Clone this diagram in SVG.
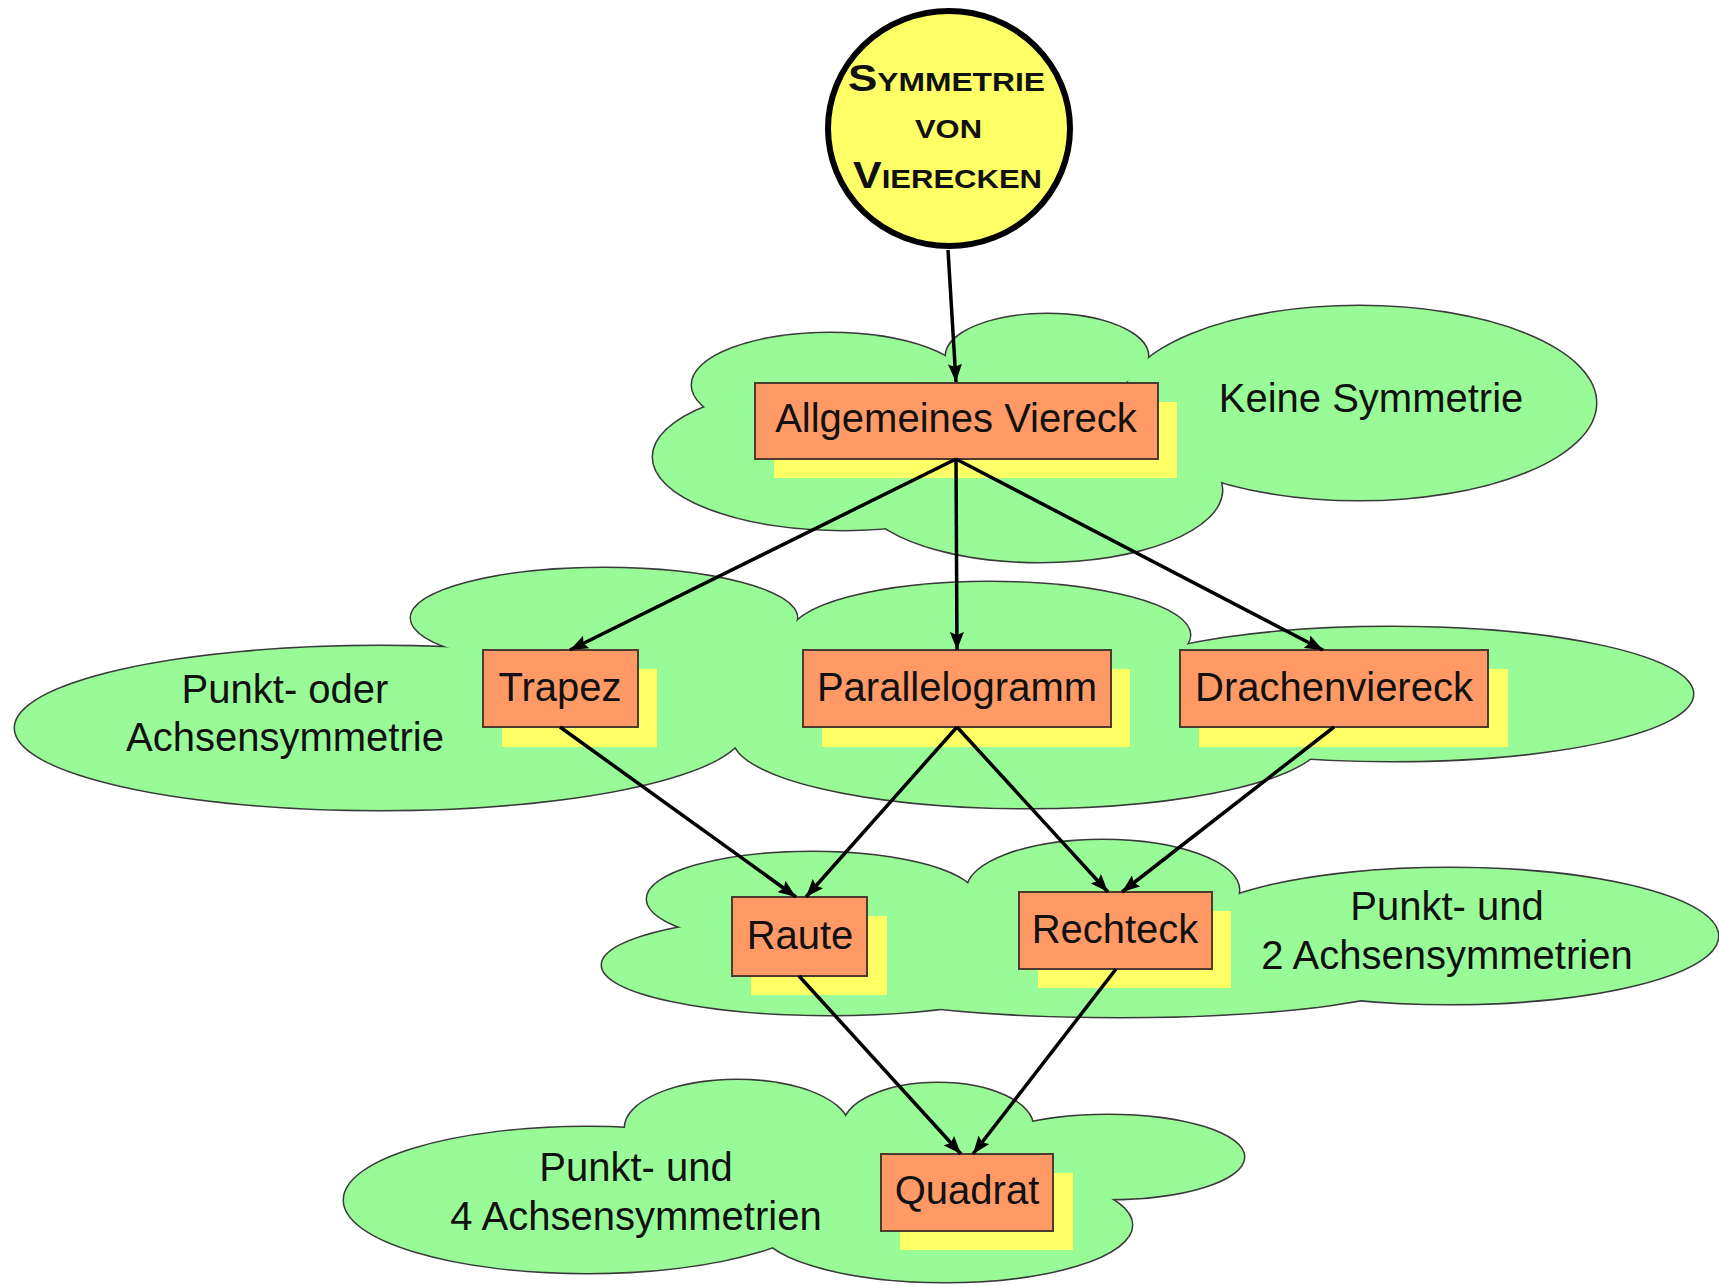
<svg xmlns="http://www.w3.org/2000/svg" xmlns:xlink="http://www.w3.org/1999/xlink" width="1719" height="1285" viewBox="0 0 1719 1285">
<style>
.cs{fill:#98FB98;stroke:#3a3a3a;stroke-width:3}
.cf{fill:#98FB98;stroke:none}
.lbl{font-family:"Liberation Sans",Arial,sans-serif;font-size:40px;fill:#111;text-anchor:middle}
.box{fill:#FF9966;stroke:#4d3b30;stroke-width:2}
.shadow{fill:#FFFF66}
.edge{stroke:#000;stroke-width:3.5;fill:none;marker-end:url(#ah)}
.title{font-family:"Liberation Sans",Arial,sans-serif;font-weight:bold;fill:#111}
</style>
<defs>
<marker id="ah" viewBox="0 0 18 14" refX="18" refY="7" markerWidth="18" markerHeight="14" markerUnits="userSpaceOnUse" orient="auto">
<path d="M0,0 L18,7 L0,14 L3,7 z" fill="#000"/>
</marker>
<g id="c1">
<ellipse cx="830" cy="385" rx="138" ry="52"/>
<ellipse cx="844" cy="457" rx="191" ry="73"/>
<ellipse cx="1047" cy="356" rx="101" ry="42"/>
<ellipse cx="1040" cy="490" rx="182" ry="72"/>
<ellipse cx="1359" cy="403" rx="237" ry="97"/>
</g>
<g id="c2">
<ellipse cx="380" cy="728" rx="365" ry="82"/>
<ellipse cx="604" cy="618" rx="193" ry="50"/>
<ellipse cx="990" cy="635" rx="200" ry="53"/>
<ellipse cx="1028" cy="738" rx="295" ry="70"/>
<ellipse cx="1391" cy="694" rx="302" ry="67"/>
</g>
<g id="c3">
<ellipse cx="812" cy="899" rx="165" ry="47"/>
<ellipse cx="830" cy="965" rx="228" ry="50"/>
<ellipse cx="1103" cy="890" rx="136" ry="50"/>
<ellipse cx="1120" cy="975" rx="300" ry="42"/>
<ellipse cx="1450" cy="936" rx="268" ry="68"/>
</g>
<g id="c4">
<ellipse cx="587" cy="1200" rx="243" ry="73"/>
<ellipse cx="737" cy="1128" rx="112" ry="48"/>
<ellipse cx="938" cy="1127" rx="95" ry="44"/>
<ellipse cx="1108" cy="1157" rx="136" ry="42"/>
<ellipse cx="945" cy="1225" rx="187" ry="57"/>
</g>
</defs>

<g id="cloud-keine">
<use xlink:href="#c1" class="cs"/>
<use xlink:href="#c1" class="cf"/>
<ellipse class="cf" cx="940" cy="440" rx="220" ry="62"/>
<text class="lbl" x="1371" y="412">Keine Symmetrie</text>
</g>

<g id="cloud-punkt-oder">
<use xlink:href="#c2" class="cs"/>
<use xlink:href="#c2" class="cf"/>
<polygon class="cf" points="630,664 700,655 793,628 860,680 860,740 740,738 680,700"/>
<polygon class="cf" points="1100,670 1160,660 1180,700 1120,700"/>
<text class="lbl" x="285" y="703">Punkt- oder</text>
<text class="lbl" x="285" y="751">Achsensymmetrie</text>
</g>

<g id="cloud-punkt-2">
<use xlink:href="#c3" class="cs"/>
<use xlink:href="#c3" class="cf"/>
<polygon class="cf" points="700,930 975,890 1220,905 1300,960 1100,1000 700,990"/>
<text class="lbl" x="1447" y="920">Punkt- und</text>
<text class="lbl" x="1447" y="969">2 Achsensymmetrien</text>
</g>

<g id="cloud-punkt-4">
<use xlink:href="#c4" class="cs"/>
<use xlink:href="#c4" class="cf"/>
<polygon class="cf" points="650,1140 845,1128 1017,1140 1105,1190 950,1240 785,1225 700,1200"/>
<text class="lbl" x="636" y="1181">Punkt- und</text>
<text class="lbl" x="636" y="1230">4 Achsensymmetrien</text>
</g>

<g id="node-title">
<ellipse cx="949" cy="128.5" rx="121" ry="117.5" fill="#FFFF66" stroke="#000" stroke-width="6"/>
<text class="title" x="848" y="91" textLength="197" lengthAdjust="spacingAndGlyphs"><tspan font-size="36">S</tspan><tspan font-size="26">YMMETRIE</tspan></text>
<text class="title" x="915" y="138" font-size="26" textLength="67" lengthAdjust="spacingAndGlyphs">VON</text>
<text class="title" x="853" y="188" textLength="189" lengthAdjust="spacingAndGlyphs"><tspan font-size="36">V</tspan><tspan font-size="26">IERECKEN</tspan></text>
</g>

<g id="node-allgemeines">
<rect class="shadow" x="774" y="402" width="403" height="76"/>
<rect class="box" x="755" y="383" width="403" height="76"/>
<text class="lbl" x="956" y="432">Allgemeines Viereck</text>
</g>

<g id="node-trapez">
<rect class="shadow" x="502" y="669" width="155" height="78"/>
<rect class="box" x="483" y="650" width="155" height="77"/>
<text class="lbl" x="560" y="701">Trapez</text>
</g>

<g id="node-parallelogramm">
<rect class="shadow" x="822" y="669" width="308" height="78"/>
<rect class="box" x="803" y="650" width="308" height="77"/>
<text class="lbl" x="957" y="701">Parallelogramm</text>
</g>

<g id="node-drachenviereck">
<rect class="shadow" x="1199" y="669" width="309" height="78"/>
<rect class="box" x="1180" y="650" width="308" height="77"/>
<text class="lbl" x="1334" y="701">Drachenviereck</text>
</g>

<g id="node-raute">
<rect class="shadow" x="751" y="916" width="136" height="79"/>
<rect class="box" x="732" y="897" width="135" height="79"/>
<text class="lbl" x="800" y="949">Raute</text>
</g>

<g id="node-rechteck">
<rect class="shadow" x="1038" y="911" width="193" height="77"/>
<rect class="box" x="1019" y="892" width="193" height="77"/>
<text class="lbl" x="1115" y="943">Rechteck</text>
</g>

<g id="node-quadrat">
<rect class="shadow" x="900" y="1173" width="173" height="77"/>
<rect class="box" x="881" y="1154" width="172" height="77"/>
<text class="lbl" x="967" y="1204">Quadrat</text>
</g>

<g id="connectors">
<path class="edge" d="M948,250 L956,382"/>
<path class="edge" d="M956,459 L570,650"/>
<path class="edge" d="M956,459 L957,650"/>
<path class="edge" d="M956,459 L1323,650"/>
<path class="edge" d="M560,727 L796,897"/>
<path class="edge" d="M957,727 L806,897"/>
<path class="edge" d="M957,727 L1108,892"/>
<path class="edge" d="M1334,727 L1122,892"/>
<path class="edge" d="M799,976 L961,1154"/>
<path class="edge" d="M1116,969 L973,1154"/>
</g>
</svg>
